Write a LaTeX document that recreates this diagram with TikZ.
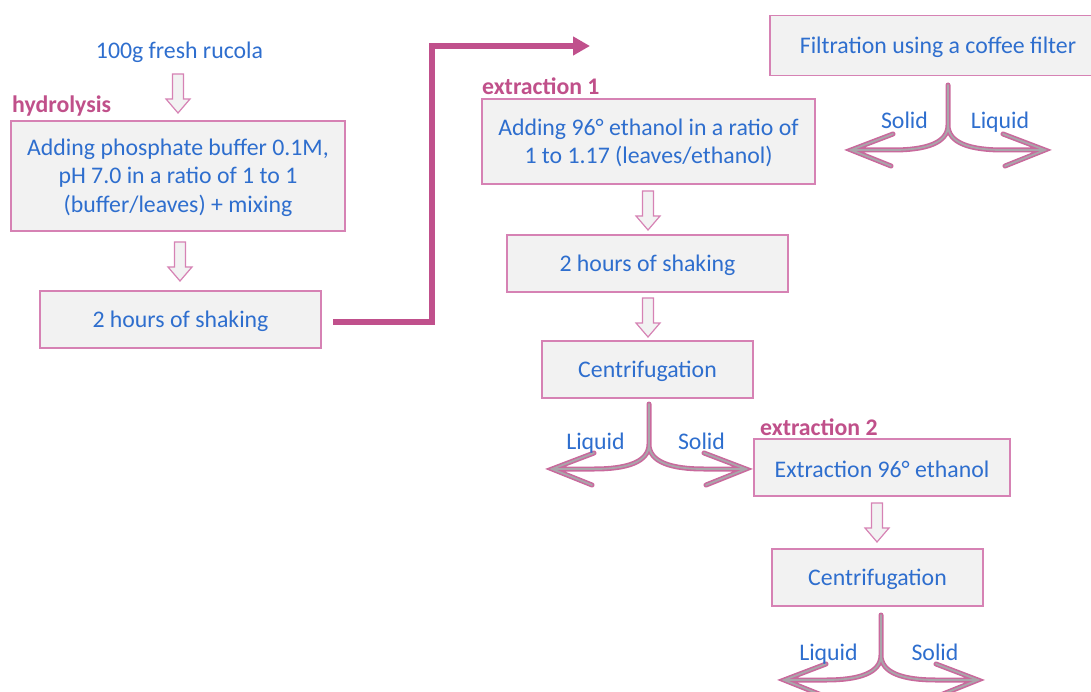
\documentclass[tikz,border=0pt]{standalone}
\usepackage{fontspec}
\setmainfont{Carlito}
\usetikzlibrary{arrows.meta}
\definecolor{txtblue}{RGB}{46,110,206}
\definecolor{labpink}{RGB}{192,80,138}
\definecolor{boxpink}{RGB}{214,130,180}
\definecolor{arrpink}{RGB}{192,80,140}
\definecolor{boxfill}{RGB}{242,242,242}
\definecolor{splitgray}{RGB}{170,165,170}
\newcommand{\lowtxt}[1]{\raisebox{-2.2pt}[\height][\depth]{#1}}
\tikzset{
  every node/.style={font=\fontsize{23.8}{28.6}\selectfont, text=txtblue},
  box/.style={draw=boxpink, fill=boxfill, line width=1.4pt, align=center, inner sep=0pt},
  lab/.style={font=\fontsize{23.8}{28.6}\selectfont\bfseries, text=labpink, anchor=base west, inner sep=0pt},
  txt/.style={anchor=base, inner sep=0pt},
  bigarrow/.style={draw=arrpink, line width=6pt, -{Triangle[length=17pt,width=18pt]}},
  harrow/.pic={
    \draw[boxpink, fill=boxfill, line width=1.2pt, line join=miter]
      (-5.5,0) -- (5.5,0) -- (5.5,25) -- (12,25) -- (0,39) -- (-12,25) -- (-5.5,25) -- cycle;
  },
  split/.pic={
    \draw[splitgray, line width=1.8pt, line cap=round, line join=miter,
          preaction={draw=arrpink!85, line width=5pt, line cap=round, line join=miter}]
      (0,0) -- (0,40) .. controls (0,58) and (-22,65) .. (-55,65) -- (-97,65)
      (0,40) .. controls (0,58) and (22,65) .. (55,65) -- (97,65)
      (-55,49) -- (-97,65) -- (-57,81)
      (55,49) -- (97,65) -- (57,81);
  }
}
\begin{document}
\begin{tikzpicture}[x=1pt,y=-1pt]
\useasboundingbox (0,0) rectangle (1091,692);
\clip (0,0) rectangle (1091,692);

% left column
\node[txt] (t0) at (179.5,58.5) {100g fresh rucola};
\node[lab] (lh) at (12,112.5) {hydrolysis};
\node[box, minimum width=334pt, minimum height=110pt] (b1) at (178,176)
  {\lowtxt{\begin{tabular}{@{}c@{}}Adding phosphate buffer 0.1M,\\ pH 7.0 in a ratio of 1 to 1\\ (buffer/leaves) + mixing\end{tabular}}};
\node[box, minimum width=281pt, minimum height=57pt] (b2) at (180.5,319.5) {\lowtxt{2 hours of shaking}};
\pic at (178,74) {harrow};
\pic at (180,242) {harrow};

% big arrow
\coordinate (s) at (333,322);
\coordinate (t) at (590,46);
\draw[bigarrow] (s) -| (432,46) -- (t);

% middle column
\node[lab] (le1) at (482,95) {extraction 1};
\node[box, minimum width=333pt, minimum height=85pt] (e1) at (648.5,141.5)
  {\lowtxt{\begin{tabular}{@{}c@{}}Adding 96° ethanol in a ratio of\\ 1 to 1.17 (leaves/ethanol)\end{tabular}}};
\node[box, minimum width=281pt, minimum height=57pt] (e2) at (647.5,263.5) {\lowtxt{2 hours of shaking}};
\node[box, minimum width=211pt, minimum height=57pt] (c1) at (647.5,369.5) {\lowtxt{Centrifugation}};
\pic at (648,191) {harrow};
\pic at (648,298) {harrow};
\pic at (649,404) {split};
\node[txt] (l1) at (595.5,449) {Liquid};
\node[txt] (s1) at (701.5,449) {Solid};

% right column
\node[box, minimum width=336pt, minimum height=60pt] (f) at (938,45.5) {\lowtxt{Filtration using a coffee filter}};
\pic at (948,85) {split};
\node[txt] (s0) at (904.5,128.5) {Solid};
\node[txt] (l0) at (1000,128.5) {Liquid};

\node[lab] (le2) at (760,435) {extraction 2};
\node[box, minimum width=256pt, minimum height=57pt] (x2) at (882,467.5) {\lowtxt{Extraction 96° ethanol}};
\node[box, minimum width=211pt, minimum height=57pt] (c2) at (877.5,577.5) {\lowtxt{Centrifugation}};
\pic at (877,503) {harrow};
\pic at (881,615) {split};
\node[txt] (l2) at (828.5,660) {Liquid};
\node[txt] (s2) at (935,660) {Solid};
\end{tikzpicture}
\end{document}
